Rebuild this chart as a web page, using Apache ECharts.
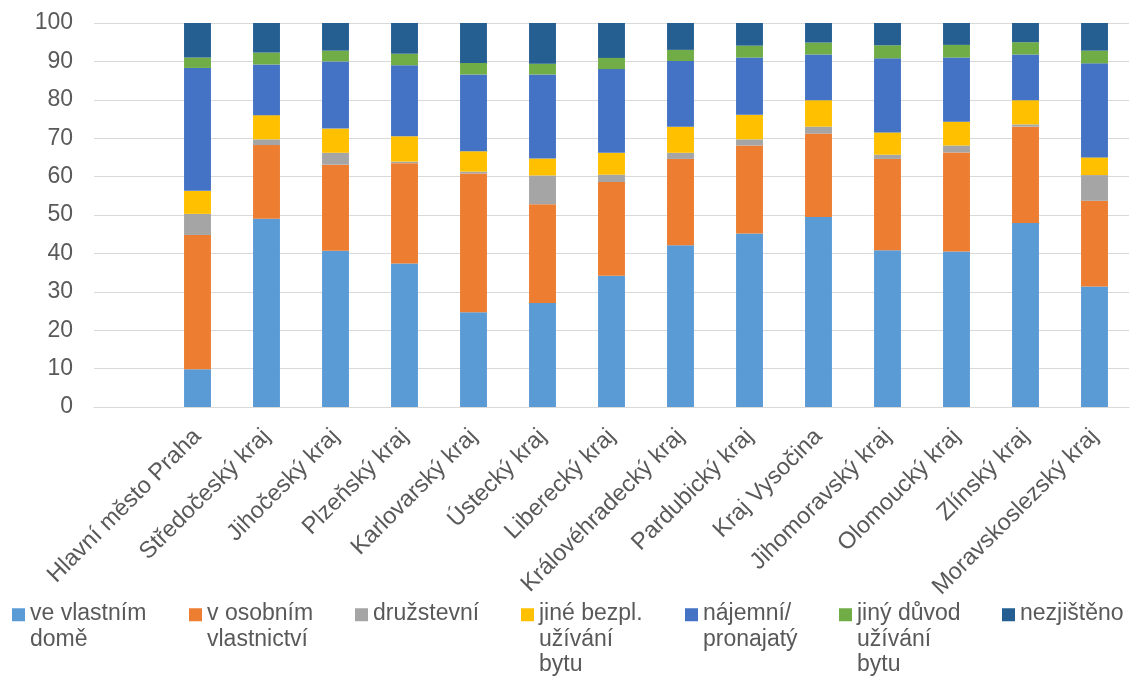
<!DOCTYPE html>
<html>
<head>
<meta charset="utf-8">
<script src="https://cdn.jsdelivr.net/npm/echarts@6/dist/echarts.min.js"></script>
<style>
html,body{margin:0;padding:0;background:#fff;}
#chart{width:1130px;height:680px;}
</style>
</head>
<body>
<div id="chart"></div>
<script>
// Categories (first slot is an empty category, as in the reference)
const categories = ['', 'Hlavní město Praha', 'Středočeský kraj', 'Jihočeský kraj', 'Plzeňský kraj',
  'Karlovarský kraj', 'Ústecký kraj', 'Liberecký kraj', 'Královéhradecký kraj', 'Pardubický kraj',
  'Kraj Vysočina', 'Jihomoravský kraj', 'Olomoucký kraj', 'Zlínský kraj', 'Moravskoslezský kraj'];

const seriesNames = ['ve vlastním domě', 'v osobním vlastnictví', 'družstevní', 'jiné bezpl. užívání bytu',
  'nájemní/pronajatý', 'jiný důvod užívání bytu', 'nezjištěno'];
const legendLabels = ['ve vlastním\ndomě', 'v osobním\nvlastnictví', 'družstevní', 'jiné bezpl.\nužívání\nbytu',
  'nájemní/\npronajatý', 'jiný důvod\nužívání\nbytu', 'nezjištěno'];

const veVlastnimDome      = [null, 9.8, 49.0, 40.7, 37.4, 24.7, 27.1, 34.2, 42.1, 45.2, 49.5, 40.8, 40.5, 47.9, 31.4];
const vOsobnimVlastnictvi = [null, 35.0, 19.2, 22.4, 26.1, 36.1, 25.7, 24.4, 22.5, 22.9, 21.7, 23.8, 25.8, 25.1, 22.3];
const druzstevni          = [null, 5.5, 1.5, 3.1, 0.4, 0.5, 7.5, 1.9, 1.6, 1.6, 1.8, 1.1, 1.8, 0.6, 6.7];
const jineBezpl           = [null, 6.0, 6.3, 6.3, 6.6, 5.3, 4.4, 5.7, 6.8, 6.4, 6.9, 5.8, 6.2, 6.3, 4.6];
const najemni             = [null, 32.0, 13.2, 17.5, 18.5, 20.0, 21.9, 21.8, 17.1, 14.9, 11.9, 19.3, 16.7, 11.9, 24.5];
const jinyDuvod           = [null, 2.7, 3.1, 2.8, 3.0, 3.0, 2.8, 2.9, 2.9, 3.1, 3.1, 3.4, 3.3, 3.2, 3.3];
const nezjisteno          = [null, 9.0, 7.7, 7.2, 8.0, 10.4, 10.6, 9.1, 7.0, 5.9, 5.1, 5.8, 5.7, 5.0, 7.2];

const yTicks = [0, 10, 20, 30, 40, 50, 60, 70, 80, 90, 100];

const seriesData = [veVlastnimDome, vOsobnimVlastnictvi, druzstevni, jineBezpl, najemni, jinyDuvod, nezjisteno];
const colors = ['#5B9BD5', '#ED7D31', '#A5A5A5', '#FFC000', '#4472C4', '#70AD47', '#255E91'];

const FONT = '"Liberation Sans", Arial, sans-serif';
const TXT = '#595959';
const LH = 25.5;
const legendLeft = [12, 189, 355, 521, 685, 839, 1002];

const legends = seriesNames.map((name, i) => {
  const lines = legendLabels[i].split('\n').length;
  const H = lines * LH;
  const y0 = (LH - 13) / 2 + 1;
  return {
    left: legendLeft[i],
    top: 601,
    padding: 0,
    itemWidth: 13,
    itemHeight: H,
    itemGap: 0,
    selectedMode: false,
    data: [{ name: name, icon: 'path://M0,' + y0 + 'h13v13h-13z M0,0 M0,' + H }],
    formatter: () => legendLabels[i],
    textStyle: { fontFamily: FONT, fontSize: 23, color: TXT, lineHeight: LH, padding: 0 }
  };
});

const chart = echarts.init(document.getElementById('chart'));
chart.setOption({
  animation: false,
  color: colors,
  textStyle: { fontFamily: FONT },
  grid: { left: 94, right: 1, top: 23, bottom: 273, containLabel: false },
  legend: legends,
  xAxis: {
    type: 'category',
    data: categories,
    axisLine: { lineStyle: { color: '#d9d9d9', width: 1 } },
    axisTick: { show: false },
    axisLabel: { interval: 0, rotate: 45, margin: 26, fontFamily: FONT, fontSize: 23.5, color: TXT }
  },
  yAxis: {
    type: 'value',
    min: yTicks[0],
    max: yTicks[yTicks.length - 1],
    interval: 10,
    axisLine: { show: false },
    axisTick: { show: false },
    splitLine: { lineStyle: { color: '#d9d9d9', width: 1 } },
    axisLabel: { margin: 21, fontFamily: FONT, fontSize: 23, color: TXT }
  },
  series: seriesNames.map((name, i) => ({
    name: name,
    type: 'bar',
    stack: 'total',
    barWidth: '39%',
    data: seriesData[i],
    itemStyle: { color: colors[i] }
  }))
});
</script>
</body>
</html>
